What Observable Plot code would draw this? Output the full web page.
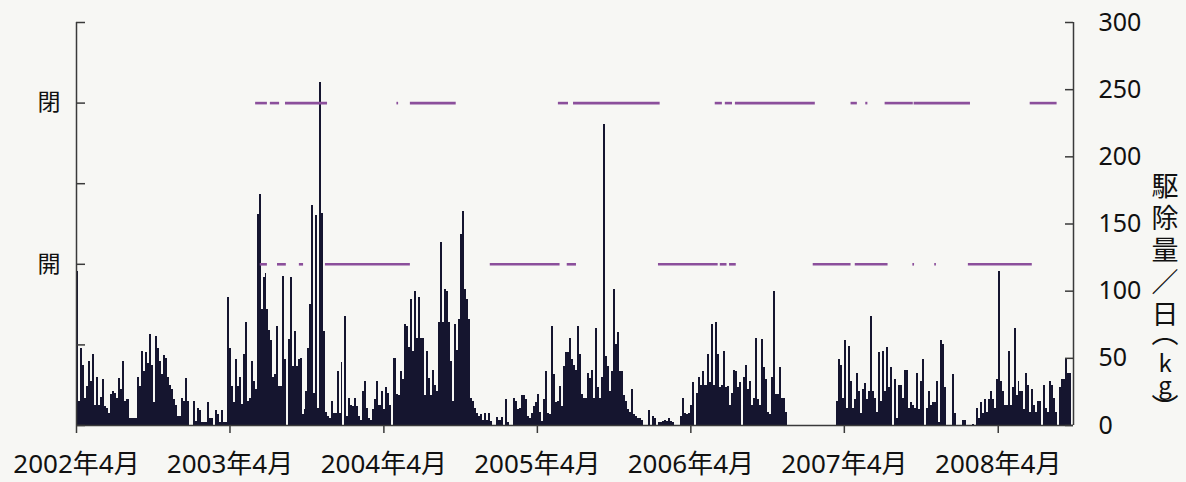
<!DOCTYPE html>
<html><head><meta charset="utf-8">
<script src="https://cdn.jsdelivr.net/npm/d3@7"></script>
<script src="https://cdn.jsdelivr.net/npm/@observablehq/plot@0.6"></script>
<style>
html,body{margin:0;padding:0;background:#f7f7f4;}
#chart{width:1186px;height:482px;overflow:hidden;}
svg{font-family:"Noto Sans","Noto Sans CJK JP",sans-serif;}
</style></head><body><div id="chart"></div>
<script>
// ---- data ----
const seasonStarts = ["2002-04-01","2003-04-01","2004-04-01","2005-04-01","2006-04-01","2007-04-01","2008-04-01"];
const lastDay = "2008-09-22";
const xTickLabels = ["2002年4月","2003年4月","2004年4月","2005年4月","2006年4月","2007年4月","2008年4月"];
const yTicks = [0,50,100,150,200,250,300];
const gateTicks = [0,60,120,180,240,300];
const gateTickLabels = ["","","開","","閉",""];
const yTitleMain = "駆除量／日（";
const yTitleUnit = "kg";
const yTitleEnd = "）";

const season2002 = [115,18,57,45,20,29,48,33,53,15, 36,15,21,34,14,13,9,23,25,24,
  20,35,27,48,18,19,5,5,5,5, 36,29,55,40,54,46,68,45,17,66,
  57,48,38,52,50,36,30,27,19,15, 7,7,20,18,35,18,0,0,18,3,
  13,11,2,2,2,17,5,5,0,11, 8,2,11,2,2,95];
const season2003 = [57,29,17,49,29,36,16,53,77,
  18,20,48,33,27,157,172,86,110,113, 86,71,63,36,38,74,29,29,111,49,
  0,64,110,44,70,44,49,50,8,12, 25,57,90,164,24,156,13,255,158,70,
  10,7,5,18,9,9,40,9,47,0, 81,7,20,15,14,20,14,7,4,25,
  33,13,5,4,12,19,33,15,15,25];
const season2004 = [12,28,24,15,0,50,23,22,40,34,75,
  74,58,94,55,100,65,95,65,65,22, 55,35,22,41,30,25,77,136,77,101,
  100,77,48,18,75,56,79,142,159,101, 94,79,20,18,13,9,7,8,4,9,
  4,9,3,0,0,6,4,6,0,19, 2,0,0,20,18,12,13,22,22,19,
  7,5,9,14,17];
const season2005 = [23,10,3,19,40,9,8,74,38,17, 18,29,14,44,54,54,65,49,45,
  41,74,53,23,20,20,39,35,41,20, 72,28,20,36,224,51,44,25,40,101,
  60,69,40,40,22,18,12,10,27,8, 7,5,5,4,0,0,0,11,0,7,
  5,0,2,2,3,4,3,5,3,2, 0,0,0,7,20,9,8,9];
const season2006 = [15,32,0,24,36,30,40,30,53,32, 75,30,77,53,28,30,55,28,29,15,
  24,41, 40,28,32,0,36,45,27,33,15,20, 65,19,15,64,43,34,10,8,36,100,
  23,23,43,20,20,10, 0,0,0,0,0,0,0,0,0,0,0,0,0,0,0,0,0,0,0,0,0,0,0,0,
  18,49,45,20];
const season2007 = [63,13,59,33,13,19,39,25,9,27, 31,19,25,81,25,20,10,54,18,55,
  25,58,28,43,0,34,5,30,30,20,41, 41,13,17,15,13,39,12,33,49,0,
  13,25,15,17,17,33,2,63,60,28, 0,0,0,38,9,0,0,0,4,4,
  0,0,0,1,0,13,5,17,9,19, 10,19,25,19,13,34];
const season2008 = [115,33,25,15,15,55,15,28,72,22, 33,25,25,12,39,30,10,27,15,10,
  18,18,0,30,13,10,33,30,20,10, 0,28,34,34,49,39,39];

const closedLevel = 240, openLevel = 120;
const closedPeriods = [
  ["2003-06-01","2003-06-29"],["2003-07-06","2003-07-28"],["2003-08-11","2003-11-19"],
  ["2004-05-02","2004-05-06"],["2004-06-03","2004-09-20"],
  ["2005-05-21","2005-06-14"],["2005-06-26","2006-01-18"],
  ["2006-05-29","2006-06-15"],["2006-06-22","2006-07-09"],["2006-07-16","2007-01-22"],
  ["2007-04-17","2007-05-02"],["2007-05-22","2007-05-27"],["2007-07-07","2007-09-12"],["2007-09-14","2008-01-26"],
  ["2008-06-16","2008-08-19"]
];
const openPeriods = [
  ["2003-06-12","2003-06-29"],["2003-07-23","2003-08-13"],["2003-09-13","2003-09-23"],["2003-11-14","2004-06-03"],
  ["2004-12-10","2005-05-25"],["2005-06-11","2005-07-03"],
  ["2006-01-14","2006-06-05"],["2006-06-10","2006-06-26"],["2006-07-02","2006-07-18"],
  ["2007-01-17","2007-04-17"],["2007-04-27","2007-07-14"],["2007-09-11","2007-09-15"],["2007-11-02","2007-11-06"],
  ["2008-01-21","2008-06-21"]
];

// ---- build bar table ----
const seasons = [season2002,season2003,season2004,season2005,season2006,season2007,season2008];
const bars = [];
seasons.forEach((vals, s) => {
  const t0 = +new Date(seasonStarts[s]);
  const t1 = +new Date(s + 1 < seasonStarts.length ? seasonStarts[s + 1] : lastDay);
  const n = vals.length;
  vals.forEach((v, i) => bars.push({x1: new Date(t0 + (t1 - t0) * i / n), x2: new Date(t0 + (t1 - t0) * (i + 1) / n), v}));
});
const toSeg = (level) => (p) => ({x1: new Date(p[0]), x2: new Date(p[1]), y: level});
const closedSegs = closedPeriods.map(toSeg(closedLevel));
const openSegs = openPeriods.map(toSeg(openLevel));

const xStart = new Date("2002-04-01"), xEnd = new Date("2008-09-27");
const W = 1186, H = 482, mL = 76, mR = 113, mT = 22, mB = 57;
const innerW = W - mL - mR;
const axisColor = "#3a3a3a";

const chart = Plot.plot({
  width: W, height: H,
  marginLeft: mL, marginRight: mR, marginTop: mT, marginBottom: mB,
  style: {background: "transparent", color: "#111", fontFamily: '"Noto Sans","Noto Sans CJK JP",sans-serif', overflow: "visible"},
  x: {type: "utc", domain: [xStart, xEnd], label: null},
  y: {domain: [0, 300], label: null},
  marks: [
    Plot.rectY(bars, {x1: "x1", x2: "x2", y: "v", fill: "#15152f", shapeRendering: "crispEdges"}),
    Plot.ruleY(closedSegs, {x1: "x1", x2: "x2", y: "y", stroke: "#8b4f9b", strokeWidth: 2.6}),
    Plot.ruleY(openSegs, {x1: "x1", x2: "x2", y: "y", stroke: "#8b4f9b", strokeWidth: 2.6}),
    // frame lines
    Plot.ruleX([xStart], {stroke: axisColor, strokeWidth: 1.5}),
    Plot.ruleX([xEnd], {stroke: axisColor, strokeWidth: 1.5}),
    Plot.ruleY([0], {stroke: axisColor, strokeWidth: 1.5}),
    // inward ticks
    Plot.ruleY(yTicks, {insetLeft: innerW - 8, stroke: axisColor, strokeWidth: 1.5}),
    Plot.ruleY(gateTicks, {insetRight: innerW - 9, stroke: axisColor, strokeWidth: 1.5}),
    // axes
    Plot.axisX({ticks: seasonStarts.map(d => new Date(d)), tickFormat: (d) => xTickLabels[seasonStarts.indexOf(d.toISOString().slice(0, 10))],
      tickSize: 8, tickPadding: 21, fontSize: 26, stroke: axisColor, strokeWidth: 1.5, label: null}),
    Plot.axisY(yTicks, {anchor: "right", tickSize: 0, tickPadding: 25, fontSize: 25, label: null}),
    Plot.axisY(gateTicks.filter((d, i) => gateTickLabels[i]), {anchor: "left", tickSize: 0, tickPadding: 16, fontSize: 23,
      tickFormat: (d) => gateTickLabels[gateTicks.indexOf(d)], label: null})
  ]
});
document.getElementById("chart").appendChild(chart);

// vertical y-axis title on the right: a single vertical text element
const svg = d3.select(chart);
const title = svg.append("text")
  .attr("x", 1165).attr("y", 172)
  .attr("text-anchor", "start")
  .attr("font-size", 27).attr("fill", "#111")
  .style("font-family", '"Noto Sans CJK JP","Noto Sans",sans-serif')
  .style("writing-mode", "vertical-rl")
  .style("text-orientation", "upright")
  .style("font-feature-settings", '"vpal"')
  .style("letter-spacing", "5px");
title.append("tspan").text(yTitleMain);
title.append("tspan").attr("font-size", 24).style("letter-spacing", "-2px").text(yTitleUnit);
title.append("tspan").style("letter-spacing", "0px").text(yTitleEnd);
</script></body></html>
